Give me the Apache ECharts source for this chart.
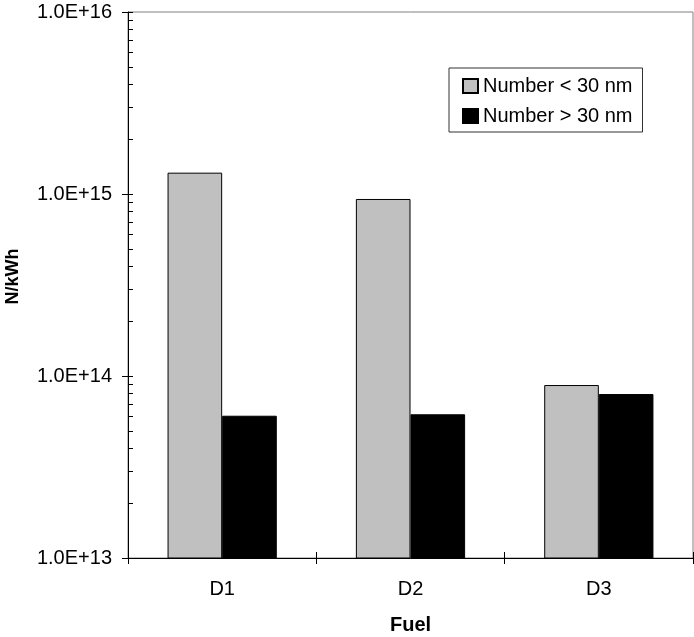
<!DOCTYPE html>
<html>
<head>
<meta charset="utf-8">
<script src="https://cdn.jsdelivr.net/npm/echarts@6/dist/echarts.min.js"></script>
<style>
html,body{margin:0;padding:0;background:#fff;}
#chart{width:694px;height:637px;}
</style>
</head>
<body>
<div id="chart"></div>
<script>
const categories = ['D1', 'D2', 'D3'];
const seriesNames = ['Number < 30 nm', 'Number > 30 nm'];
const smallParticles = [1.31e15, 9.39e14, 8.92e13];
const largeParticles = [6.05e13, 6.16e13, 7.96e13];
const majorTicks = [1e13, 1e14, 1e15, 1e16];
const minorTicks = [];
for (let e = 13; e < 16; e++) {
  for (let m = 1; m <= 9; m++) minorTicks.push(m * Math.pow(10, e));
}
minorTicks.push(1e16);

const FONT = "'Liberation Sans', Arial, sans-serif";
const chart = echarts.init(document.getElementById('chart'), null, {renderer: 'canvas'});
chart.setOption({
  animation: false,
  backgroundColor: '#fff',
  textStyle: {fontFamily: FONT, color: '#000'},
  grid: {left: 128, right: 1, top: 12, bottom: 79, show: true, borderColor: '#808080', borderWidth: 1,
         containLabel: false, outerBoundsMode: 'none'},
  legend: {
    orient: 'vertical',
    left: 449, top: 68,
    padding: [8, 10, 6, 13],
    borderColor: '#333', borderWidth: 1,
    backgroundColor: '#fff',
    itemWidth: 15, itemHeight: 14, itemGap: 10,
    icon: 'rect',
    textStyle: {fontSize: 20, fontFamily: FONT, color: '#000', lineHeight: 20},
    data: seriesNames
  },
  xAxis: [
    {
      type: 'category', data: categories, position: 'bottom',
      axisLine: {lineStyle: {color: '#000', width: 1}},
      axisTick: {show: true, inside: false, length: 6, lineStyle: {color: '#000'}},
      axisLabel: {fontSize: 20, color: '#000', margin: 21, fontFamily: FONT},
      name: 'Fuel', nameLocation: 'middle', nameGap: 57,
      nameTextStyle: {fontSize: 20, fontWeight: 'bold', color: '#000', fontFamily: FONT}
    },
    {
      type: 'category', data: categories, position: 'bottom',
      axisLine: {show: false},
      axisTick: {show: true, inside: true, length: 6, lineStyle: {color: '#000'}},
      axisLabel: {show: false}
    }
  ],
  yAxis: [
    {
      type: 'log', logBase: 10, min: 1e13, max: 1e16, position: 'left',
      axisLine: {show: true, lineStyle: {color: '#000', width: 1}},
      axisTick: {show: true, inside: false, length: 6, lineStyle: {color: '#000'}, customValues: majorTicks},
      axisLabel: {fontSize: 20, color: '#000', margin: 16, fontFamily: FONT, customValues: majorTicks,
        formatter: v => Number(v).toExponential(1).replace('e', 'E')},
      splitLine: {show: false},
      name: 'N/kWh', nameLocation: 'middle', nameGap: 106, nameRotate: 90,
      nameTextStyle: {fontSize: 18, fontWeight: 'bold', color: '#000', fontFamily: FONT, padding: [0, 0, 0, 17]}
    },
    {
      type: 'log', logBase: 10, min: 1e13, max: 1e16, position: 'left',
      axisLine: {show: false},
      axisTick: {show: true, inside: true, length: 5, lineStyle: {color: '#000'}, customValues: minorTicks},
      axisLabel: {show: false},
      splitLine: {show: false}
    }
  ],
  series: [
    {
      name: seriesNames[0], type: 'bar', data: smallParticles,
      xAxisIndex: 0, yAxisIndex: 0,
      barGap: '0%', barCategoryGap: '42%',
      itemStyle: {color: '#C0C0C0', borderColor: '#000', borderWidth: 1}
    },
    {
      name: seriesNames[1], type: 'bar', data: largeParticles,
      xAxisIndex: 0, yAxisIndex: 0,
      barGap: '0%', barCategoryGap: '42%',
      itemStyle: {color: '#000', borderColor: '#000', borderWidth: 1}
    },
    {
      name: 'axis-helper', type: 'line', data: largeParticles,
      xAxisIndex: 1, yAxisIndex: 1,
      showSymbol: false, silent: true,
      lineStyle: {opacity: 0}, itemStyle: {opacity: 0},
      tooltip: {show: false}
    }
  ]
});
</script>
</body>
</html>
